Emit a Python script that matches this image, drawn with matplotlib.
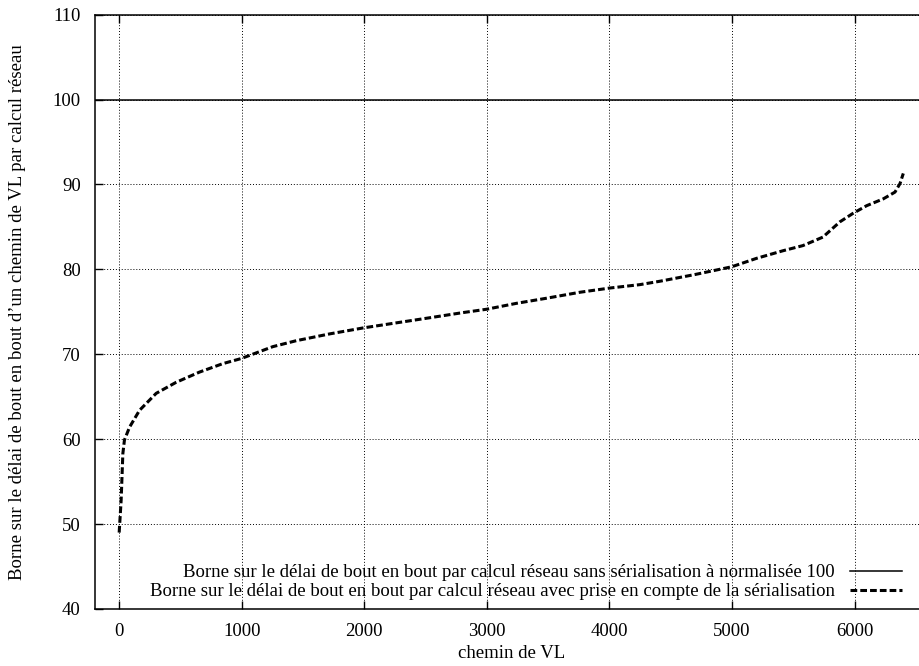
import matplotlib
matplotlib.use("Agg")
import matplotlib.pyplot as plt

plt.rcParams["font.family"] = ["Liberation Serif", "DejaVu Serif"]

# chemin de VL (rang trié) et borne normalisée (sans sérialisation = 100)
chemin = [0, 16, 30, 43, 84, 166, 302, 465, 655, 846, 996, 1254, 1445, 1717,
          1989, 2261, 2533, 2800, 2996, 3241, 3486, 3757, 4002, 4247, 4411,
          4700, 4996, 5200, 5417, 5578, 5741, 5880, 5987, 6098, 6233, 6329,
          6370, 6397]
borne_serial = [49.0, 52.8, 58.3, 59.9, 61.4, 63.4, 65.4, 66.7, 67.9, 68.9,
                69.5, 70.9, 71.6, 72.4, 73.1, 73.7, 74.3, 74.9, 75.3, 76.0,
                76.6, 77.3, 77.8, 78.2, 78.6, 79.4, 80.3, 81.3, 82.2, 82.8,
                83.8, 85.6, 86.6, 87.5, 88.3, 89.1, 90.1, 91.3]
borne_ref = 100

label_ref = ("Borne sur le délai de bout en bout par calcul réseau sans "
             "sérialisation à normalisée 100")
label_serial = ("Borne sur le délai de bout en bout par calcul réseau avec "
                "prise en compte de la sérialisation")

FS = 13.5

fig = plt.figure(figsize=(9.19, 6.66), dpi=100)
ax = fig.add_axes([0.103, 0.0856, 0.907, 0.8924])

ax.axhline(borne_ref, color="black", lw=1.1, label=label_ref)
ax.plot(chemin, borne_serial, color="black", lw=2.2, dashes=(2.2, 1.0),
        label=label_serial)

ax.set_xlim(-200, 6600)
ax.set_ylim(40, 110)
ax.set_xticks(range(0, 7000, 1000))
ax.set_yticks(range(40, 111, 10))
ax.grid(True, color="black", lw=0.7, linestyle=(0, (1, 2)))
ax.tick_params(direction="in", length=6, width=1, top=True, right=True,
               labelsize=FS, pad=10)
for sp in ax.spines.values():
    sp.set_linewidth(1.1)

ax.set_xlabel("chemin de VL", fontsize=FS, labelpad=4)
ax.set_ylabel("Borne sur le délai de bout en bout d\u2019un chemin de VL par calcul réseau",
              fontsize=FS, labelpad=19)

ax.legend(loc="lower right", bbox_to_anchor=(0.992, 0.0845),
          bbox_transform=fig.transFigure, frameon=False, markerfirst=False,
          fontsize=FS, handlelength=2.8, handletextpad=0.8,
          labelspacing=0.1, borderpad=0)

fig.savefig("out.png", dpi=100)
